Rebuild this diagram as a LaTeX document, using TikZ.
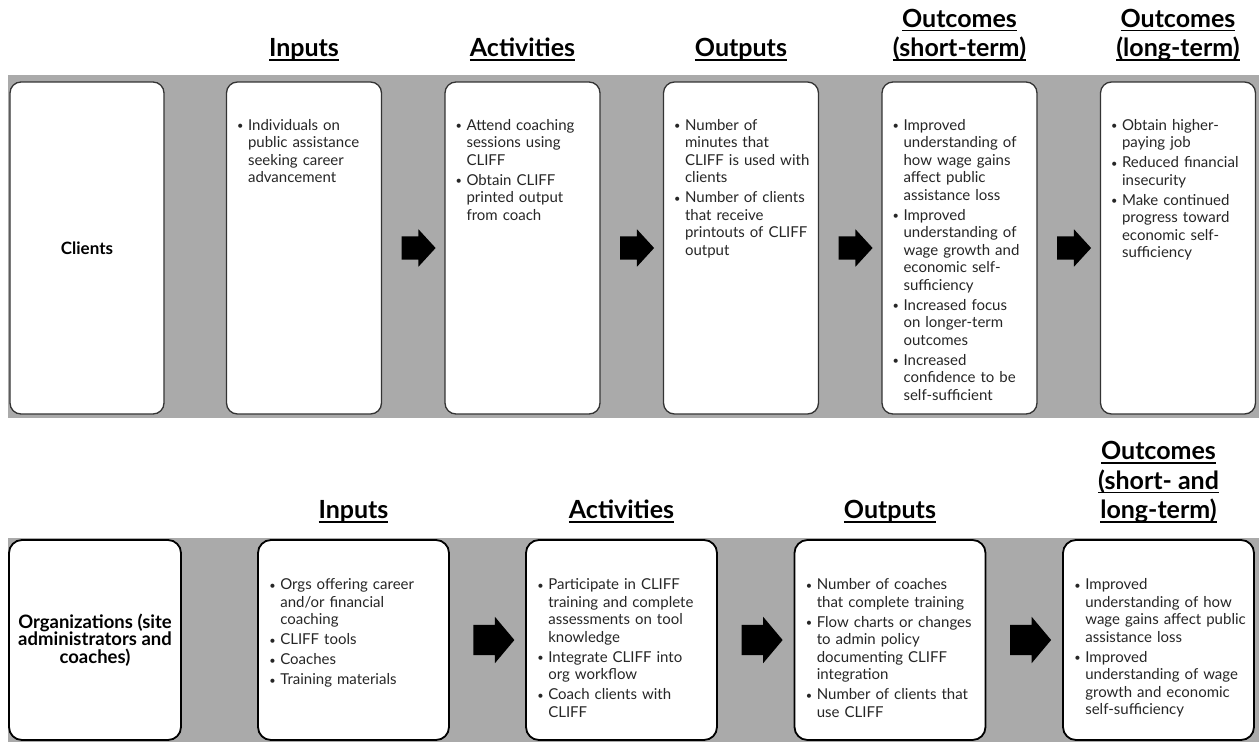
\documentclass[tikz,border=0pt]{standalone}
\usepackage{fontspec}
\setmainfont{Lato}
\usepackage{tikz}
\usetikzlibrary{shapes.arrows}
\usetikzlibrary{calc}
\definecolor{band}{RGB}{170,170,170}
\tikzstyle{card}=[draw=black!80, line width=1.3pt, fill=white, rounded corners=11pt, inner sep=0pt]
\tikzstyle{tcard}=[card, minimum width=155pt, minimum height=332pt]
\tikzstyle{bcard}=[card, draw=black, line width=1.8pt, rounded corners=13pt, minimum width=191pt, minimum height=200pt]
\tikzstyle{lab}=[font=\fontsize{17}{17.5}\selectfont\bfseries, align=center]
\tikzstyle{head}=[font=\fontsize{25}{29.5}\selectfont\bfseries, align=center, anchor=south, inner sep=0pt, text depth=8pt]
\tikzstyle{items}=[font=\fontsize{15}{17.5}\selectfont, text=black!85, text width=180pt, align=left, anchor=north west, inner sep=0pt]
\tikzstyle{tarrow}=[single arrow, fill=black, inner xsep=0pt, inner ysep=11.5pt, minimum height=34pt, single arrow head extend=7pt, single arrow tip angle=95]
\tikzstyle{barrow}=[tarrow, inner ysep=15pt, minimum height=41pt, single arrow head extend=8pt, single arrow tip angle=100]
\newsavebox\hdbox
\newcommand{\uln}[1]{\sbox\hdbox{#1}\rlap{\rule[-4pt]{\wd\hdbox}{1.4pt}}\usebox\hdbox}
\newcommand{\bpt}[1]{\hangindent=11pt\hangafter=1\noindent\makebox[11pt][l]{\raisebox{0.5pt}{\fontsize{11}{11}\selectfont\textbullet}}#1\par\vspace{2.5pt}}

\begin{document}
\begin{tikzpicture}[x=1pt, y=-1pt]
    \useasboundingbox (0,0) rectangle (1259,742);
    \clip (0,0) rectangle (1259,742);
    % grey bands
    \fill[band] (8,75) rectangle (1259,418);
    \fill[band] (8,538) rectangle (1259,746);

    % clients
    \node[tcard, minimum width=154pt, lab] (cli) at (87,248) {Clients};
    \node[tcard] (inp) at (304,248) {};
    \node[tcard] (act) at (522.5,248) {};
    \node[tcard] (out) at (741,248) {};
    \node[tcard] (sho) at (959.5,248) {};
    \node[tcard] (lon) at (1178,248) {};
    \node[tarrow] (a1) at ($(inp.east)!0.5!(act.west)$) {};
    \node[tarrow] (a2) at ($(act.east)!0.5!(out.west)$) {};
    \node[tarrow] (a3) at ($(out.east)!0.5!(sho.west)$) {};
    \node[tarrow] (a4) at ($(sho.east)!0.5!(lon.west)$) {};
    \node[head] (h-inp) at (inp |- 0,65) {\uln{Inputs}};
    \node[head] (h-act) at (act |- 0,65) {\uln{Activities}};
    \node[head] (h-out) at (out |- 0,65) {\uln{Outputs}};
    \node[head] (h-sho) at (sho |- 0,65) {\uln{Outcomes}\\\uln{(short-term)}};
    \node[head] (h-lon) at (lon |- 0,65) {\uln{Outcomes}\\\uln{(long-term)}};
    \node[items] (t-inp) at ($(inp.north west)+(11,37.5)$) {\bpt{Individuals on\newline public assistance\newline seeking career\newline advancement}};
    \node[items] (t-act) at ($(act.north west)+(11,37.5)$) {\bpt{Attend coaching\newline sessions using\newline CLIFF}\bpt{Obtain CLIFF\newline printed output\newline from coach}};
    \node[items] (t-out) at ($(out.north west)+(11,37.5)$) {\bpt{Number of\newline minutes that\newline CLIFF is used with\newline clients}\bpt{Number of clients\newline that receive\newline printouts of CLIFF\newline output}};
    \node[items] (t-sho) at ($(sho.north west)+(11,37.5)$) {\bpt{Improved\newline understanding of\newline how wage gains\newline affect public\newline assistance loss}\bpt{Improved\newline understanding of\newline wage growth and\newline economic self-\newline sufficiency}\bpt{Increased focus\newline on longer-term\newline outcomes}\bpt{Increased\newline confidence to be\newline self-sufficient}};
    \node[items] (t-lon) at ($(lon.north west)+(11,37.5)$) {\bpt{Obtain higher-\newline paying job}\bpt{Reduced financial\newline insecurity}\bpt{Make continued\newline progress toward\newline economic self-\newline sufficiency}};

    % organizations
    \node[bcard, minimum width=172pt, lab, font=\fontsize{18.5}{17.5}\selectfont\bfseries] (org) at (95,640) {Organizations (site\\administrators and\\coaches)};
    \node[bcard] (inp2) at (353.5,640) {};
    \node[bcard] (act2) at (621.5,640) {};
    \node[bcard] (out2) at (890,640) {};
    \node[bcard] (res2) at (1158.5,640) {};
    \node[barrow] (b1) at ($(inp2.east)!0.5!(act2.west)$) {};
    \node[barrow] (b2) at ($(act2.east)!0.5!(out2.west)$) {};
    \node[barrow] (b3) at ($(out2.east)!0.5!(res2.west)$) {};
    \node[head] (h-inp2) at (inp2 |- 0,527) {\uln{Inputs}};
    \node[head] (h-act2) at (act2 |- 0,527) {\uln{Activities}};
    \node[head] (h-out2) at (out2 |- 0,527) {\uln{Outputs}};
    \node[head] (h-res2) at (res2 |- 0,527) {\uln{Outcomes}\\\uln{(short- and}\\\uln{long-term)}};
    \node[items] (t-inp2) at ($(inp2.north west)+(12,39.5)$) {\bpt{Orgs offering career\newline and/or financial\newline coaching}\bpt{CLIFF tools}\bpt{Coaches}\bpt{Training materials}};
    \node[items] (t-act2) at ($(act2.north west)+(12,39.5)$) {\bpt{Participate in CLIFF\newline training and complete\newline assessments on tool\newline knowledge}\bpt{Integrate CLIFF into\newline org workflow}\bpt{Coach clients with\newline CLIFF}};
    \node[items] (t-out2) at ($(out2.north west)+(12,39.5)$) {\bpt{Number of coaches\newline that complete training}\bpt{Flow charts or changes\newline to admin policy\newline documenting CLIFF\newline integration}\bpt{Number of clients that\newline use CLIFF}};
    \node[items] (t-res2) at ($(res2.north west)+(12,39.5)$) {\bpt{Improved\newline understanding of how\newline wage gains affect public\newline assistance loss}\bpt{Improved\newline understanding of wage\newline growth and economic\newline self-sufficiency}};
\end{tikzpicture}
\end{document}
